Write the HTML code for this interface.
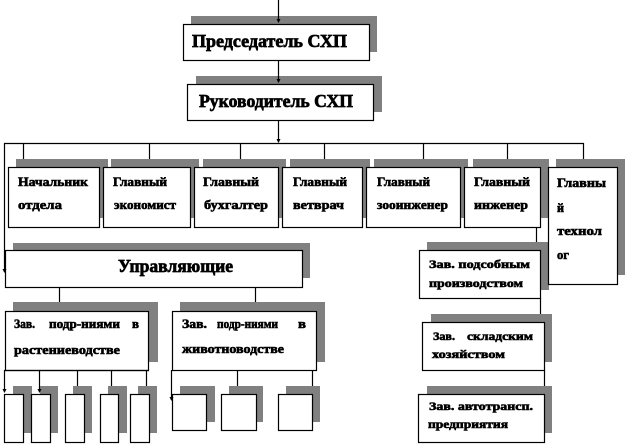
<!DOCTYPE html>
<html><head><meta charset="utf-8"><style>
html,body{margin:0;padding:0;background:#fff;}
svg{display:block;}
text{font-family:"Liberation Serif","DejaVu Serif",serif;font-weight:bold;fill:#000;stroke:#000;stroke-width:0.6;}
.b{font-size:18px;stroke-width:0.7;}
.s{font-size:13px;}
.t{font-size:12px;}
</style></head><body>
<svg width="627" height="445" viewBox="0 0 627 445" xmlns="http://www.w3.org/2000/svg">
<g fill="#808080" stroke="none">
<rect x="191" y="16" width="186" height="36"/>
<rect x="196" y="76" width="186" height="36"/>
<rect x="16" y="159" width="92" height="59"/>
<rect x="111" y="159" width="88" height="59"/>
<rect x="203" y="159" width="83" height="59"/>
<rect x="290" y="159" width="80" height="59"/>
<rect x="374" y="159" width="94" height="59"/>
<rect x="473" y="159" width="76" height="59"/>
<rect x="556" y="159" width="69" height="116"/>
<rect x="13" y="243" width="297" height="35"/>
<rect x="427" y="242" width="122" height="48"/>
<rect x="13" y="302" width="145" height="60"/>
<rect x="180" y="302" width="145" height="60"/>
<rect x="431" y="314" width="121" height="48"/>
<rect x="427" y="386" width="125" height="47"/>
<rect x="13" y="386" width="19" height="47"/>
<rect x="40" y="386" width="18" height="47"/>
<rect x="73" y="386" width="19" height="47"/>
<rect x="108" y="386" width="19" height="47"/>
<rect x="138" y="386" width="19" height="47"/>
<rect x="180" y="386" width="35" height="36"/>
<rect x="229" y="386" width="34" height="36"/>
<rect x="286" y="386" width="34" height="36"/>
</g>
<g fill="#fff" stroke="#000" stroke-width="1.2">
<rect x="183.5" y="24.5" width="186" height="36"/>
<rect x="187.5" y="84.5" width="186" height="36"/>
<rect x="8.5" y="167.5" width="91" height="60"/>
<rect x="103.5" y="167.5" width="87" height="60"/>
<rect x="194.5" y="167.5" width="84" height="60"/>
<rect x="282.5" y="167.5" width="80" height="60"/>
<rect x="366.5" y="167.5" width="94" height="60"/>
<rect x="464.5" y="167.5" width="76" height="60"/>
<rect x="548.5" y="167.5" width="69" height="117"/>
<rect x="5.5" y="250.5" width="297" height="37"/>
<rect x="419.5" y="250.5" width="121" height="48"/>
<rect x="5.5" y="311.5" width="143" height="59"/>
<rect x="172.5" y="311.5" width="144" height="59"/>
<rect x="422.5" y="322.5" width="122" height="48"/>
<rect x="418.5" y="394.5" width="126" height="48"/>
<rect x="4.5" y="394.5" width="19" height="48"/>
<rect x="31.5" y="394.5" width="19" height="48"/>
<rect x="65.5" y="394.5" width="19" height="48"/>
<rect x="100.5" y="394.5" width="18" height="48"/>
<rect x="130.5" y="394.5" width="19" height="48"/>
<rect x="172.5" y="394.5" width="34" height="36"/>
<rect x="221.5" y="394.5" width="35" height="36"/>
<rect x="278.5" y="394.5" width="34" height="36"/>
</g>
<g stroke="#000" stroke-width="1.2" fill="none">
<line x1="278.5" y1="0" x2="278.5" y2="22"/>
<line x1="278.5" y1="60" x2="278.5" y2="82"/>
<line x1="278.5" y1="120" x2="278.5" y2="142"/>
<line x1="4" y1="143.5" x2="584" y2="143.5"/>
<line x1="23.5" y1="143" x2="23.5" y2="159"/>
<line x1="149.5" y1="143" x2="149.5" y2="159"/>
<line x1="240.5" y1="143" x2="240.5" y2="159"/>
<line x1="324.5" y1="143" x2="324.5" y2="159"/>
<line x1="423.5" y1="143" x2="423.5" y2="159"/>
<line x1="507.5" y1="143" x2="507.5" y2="159"/>
<line x1="583.5" y1="143" x2="583.5" y2="159"/>
<line x1="4.5" y1="143" x2="4.5" y2="272"/>
<line x1="536.5" y1="228" x2="536.5" y2="242"/>
<line x1="540.5" y1="298" x2="540.5" y2="314"/>
<line x1="544.5" y1="370" x2="544.5" y2="386"/>
<line x1="59.5" y1="287" x2="59.5" y2="302"/>
<line x1="255.5" y1="287" x2="255.5" y2="302"/>
<line x1="4" y1="370.5" x2="149" y2="370.5"/>
<line x1="4.5" y1="370" x2="4.5" y2="392"/>
<line x1="39.5" y1="370" x2="39.5" y2="392"/>
<line x1="77.5" y1="370" x2="77.5" y2="386"/>
<line x1="111.5" y1="370" x2="111.5" y2="386"/>
<line x1="146.5" y1="370" x2="146.5" y2="386"/>
<line x1="171.5" y1="370" x2="171.5" y2="400"/>
<line x1="237.5" y1="370" x2="237.5" y2="386"/>
<line x1="312.5" y1="370" x2="312.5" y2="386"/>
</g>
<g fill="#000" stroke="none">
<polygon points="276.5,19 280.5,19 278.5,23"/>
<polygon points="276.5,79 280.5,79 278.5,83"/>
<polygon points="276.5,139 280.5,139 278.5,143"/>
<polygon points="2.5,269 6.5,269 4.5,273"/>
<polygon points="2.5,389 6.5,389 4.5,393"/>
<polygon points="37.5,389 41.5,389 39.5,393"/>
<polygon points="169.5,397 173.5,397 171.5,401"/>
</g>
<text class="b" x="192" y="47" textLength="155" lengthAdjust="spacingAndGlyphs">Председатель СХП</text>
<text class="b" x="199" y="107" textLength="154" lengthAdjust="spacingAndGlyphs">Руководитель СХП</text>
<text class="s" x="18" y="186" textLength="70" lengthAdjust="spacingAndGlyphs">Начальник</text>
<text class="s" x="18" y="209" textLength="44" lengthAdjust="spacingAndGlyphs">отдела</text>
<text class="s" x="113" y="186" textLength="54" lengthAdjust="spacingAndGlyphs">Главный</text>
<text class="s" x="114" y="209" textLength="62" lengthAdjust="spacingAndGlyphs">экономист</text>
<text class="s" x="203" y="186" textLength="56" lengthAdjust="spacingAndGlyphs">Главный</text>
<text class="s" x="204" y="209" textLength="64" lengthAdjust="spacingAndGlyphs">бухгалтер</text>
<text class="s" x="293" y="186" textLength="54" lengthAdjust="spacingAndGlyphs">Главный</text>
<text class="s" x="293" y="209" textLength="51" lengthAdjust="spacingAndGlyphs">ветврач</text>
<text class="s" x="377" y="186" textLength="53" lengthAdjust="spacingAndGlyphs">Главный</text>
<text class="s" x="377" y="209" textLength="71" lengthAdjust="spacingAndGlyphs">зооинженер</text>
<text class="s" x="474" y="186" textLength="56" lengthAdjust="spacingAndGlyphs">Главный</text>
<text class="s" x="474" y="209" textLength="54" lengthAdjust="spacingAndGlyphs">инженер</text>
<text class="s" x="557" y="187" textLength="49" lengthAdjust="spacingAndGlyphs">Главны</text>
<text class="s" x="557" y="212" textLength="7" lengthAdjust="spacingAndGlyphs">й</text>
<text class="s" x="557" y="235" textLength="45" lengthAdjust="spacingAndGlyphs">технол</text>
<text class="s" x="557" y="259" textLength="12" lengthAdjust="spacingAndGlyphs">ог</text>
<text class="b" x="118" y="272" textLength="115" lengthAdjust="spacingAndGlyphs">Управляющие</text>
<text class="t" x="429" y="268" textLength="101" lengthAdjust="spacingAndGlyphs">Зав. подсобным</text>
<text class="t" x="429" y="287" textLength="94" lengthAdjust="spacingAndGlyphs">производством</text>
<text class="s" x="14" y="328" textLength="21" lengthAdjust="spacingAndGlyphs">Зав.</text>
<text class="s" x="49" y="328" textLength="71" lengthAdjust="spacingAndGlyphs">подр-ниями</text>
<text class="s" x="132" y="328" textLength="7" lengthAdjust="spacingAndGlyphs">в</text>
<text class="s" x="14" y="354" textLength="106" lengthAdjust="spacingAndGlyphs">растениеводстве</text>
<text class="s" x="182" y="328" textLength="25" lengthAdjust="spacingAndGlyphs">Зав.</text>
<text class="s" x="217" y="328" textLength="61" lengthAdjust="spacingAndGlyphs">подр-ниями</text>
<text class="s" x="298" y="328" textLength="8" lengthAdjust="spacingAndGlyphs">в</text>
<text class="s" x="182" y="353" textLength="102" lengthAdjust="spacingAndGlyphs">животноводстве</text>
<text class="t" x="433" y="340" textLength="22" lengthAdjust="spacingAndGlyphs">Зав.</text>
<text class="t" x="467" y="340" textLength="66" lengthAdjust="spacingAndGlyphs">складским</text>
<text class="t" x="432" y="358" textLength="73" lengthAdjust="spacingAndGlyphs">хозяйством</text>
<text class="t" x="429" y="410" textLength="104" lengthAdjust="spacingAndGlyphs">Зав. автотрансп.</text>
<text class="t" x="428" y="428" textLength="80" lengthAdjust="spacingAndGlyphs">предприятия</text>
</svg>
</body></html>
